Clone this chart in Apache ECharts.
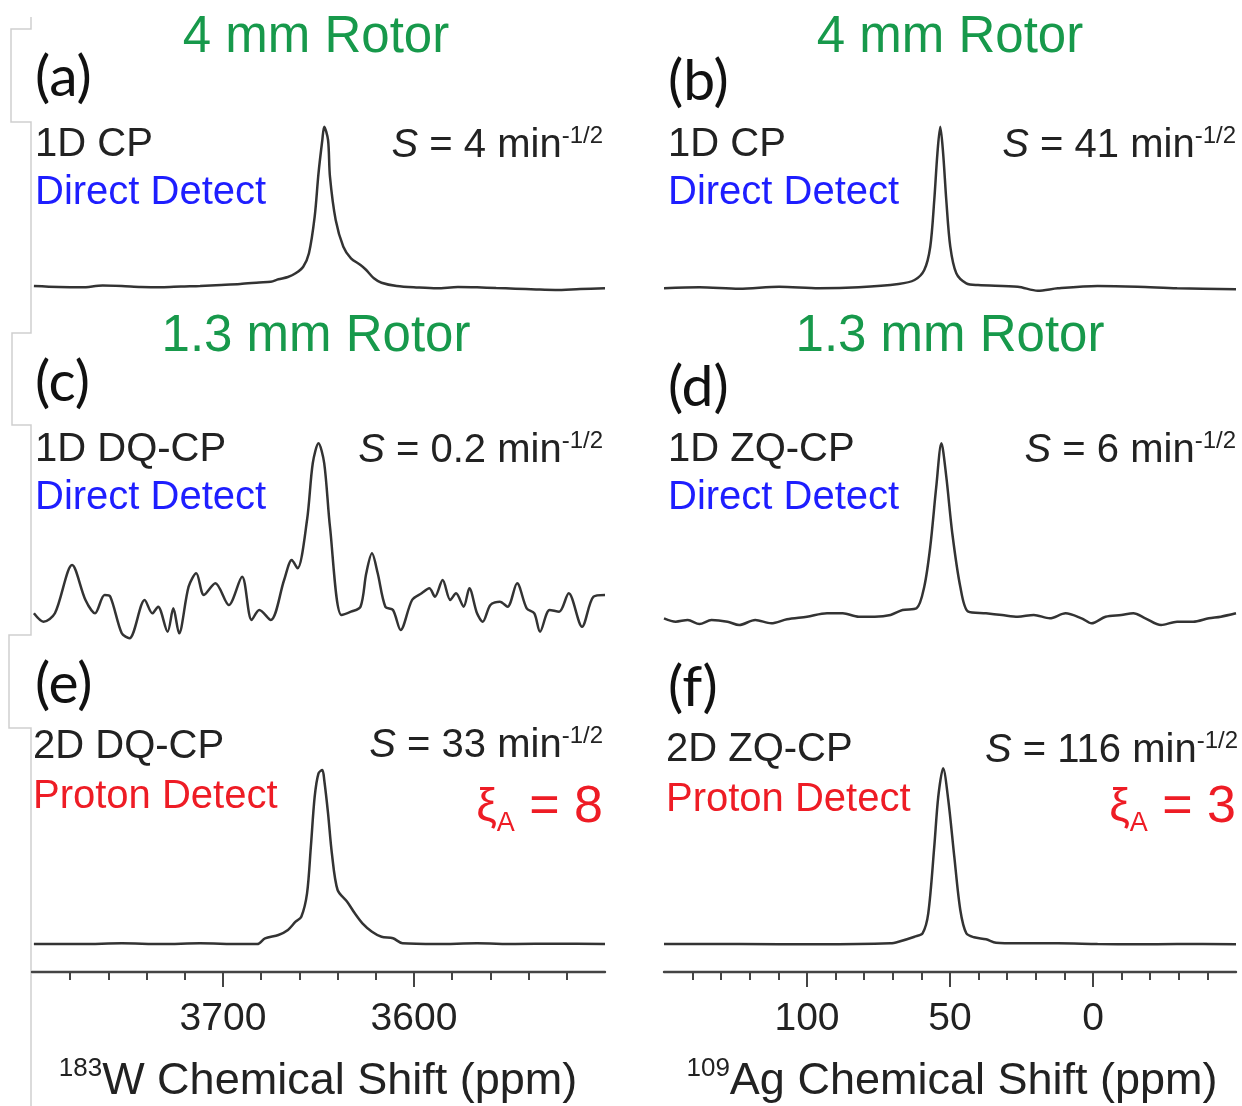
<!DOCTYPE html>
<html>
<head>
<meta charset="utf-8">
<script src="https://cdn.jsdelivr.net/npm/echarts@6/dist/echarts.min.js"></script>
<style>
html,body{margin:0;padding:0;background:#fff;}
#c{width:1242px;height:1106px;}
</style>
</head>
<body>
<div id="c"></div>
<script>
// ---------- DATA ----------
// 183W shift (ppm) and intensity (arb. units) for the left column
const shiftA = [3799,3786,3774,3763,3753,3743,3732,3722,3712,3701,3691,3681,3675,3671,3666,3662,3658,3655,3652,3650,3648,3647,3645,3644,3641,3637,3633,3628,3625,3621,3617,3609,3598,3588,3577,3567,3557,3547,3536,3526,3513,3500];
const intA   = [1,0,-0.3,1.5,1,0,-0.3,0.5,1,2,3,4.5,5.3,7.7,10,13.7,20.3,33.7,70.3,113.7,147,160.3,147,110.3,67,40.3,28.7,22,17,8.7,4.3,1,-0.5,-1.3,0,-0.3,-1,-1.7,-2.5,-3,-2,-1.3];

const shiftC = [3799,3794,3788,3779,3772,3767,3762,3759,3753,3749,3741,3737,3734,3729,3726,3723,3718,3714,3710,3704,3697,3690,3685,3681,3675,3668,3664,3661,3656,3653,3650,3647,3644,3638,3633,3628,3625,3622,3619,3615,3611,3607,3601,3596,3592,3589,3585,3581,3578,3574,3571,3567,3564,3560,3555,3551,3546,3541,3537,3534,3529,3524,3519,3512,3506,3500];
const intC   = [6.7,-1.7,6.7,55,20,6.7,25,23.3,-13.3,-18.3,20,6.7,13.3,-11.7,11.7,-13.3,33.3,46.7,25,36.7,15,43.3,0,10,0,40,60,51.7,100,156.7,176.7,156.7,93.3,5,8.3,13.3,46.7,66.7,46.7,13.3,10,-10,20,26.7,31.7,23.3,40,20,26.7,13.3,31.7,6.7,-1.7,15,18.3,13.3,36.7,11.7,6.7,-11.7,10,8.3,26.7,-6.7,23.3,25];

const shiftE = [3799,3774,3753,3732,3712,3691,3682,3678,3671,3666,3662,3659,3656,3654,3652,3650,3648,3647,3645,3643,3640,3635,3631,3627,3622,3617,3611,3606,3588,3567,3547,3526,3500];
const intE   = [0,0,0.7,0,0.7,0,0,5.7,9,14,22.3,27.3,50.7,97.3,147.3,170.7,174,164,130.7,90.7,54,42.3,30.7,20.7,12.3,7.3,5.7,0.7,0,0.7,0,0.3,0];

// 109Ag shift (ppm) and intensity (arb. units) for the right column
const shiftB = [150,137.6,123.7,109.7,95.8,81.9,68,62.4,59,56.9,55.5,54.4,53.4,52.4,51.3,49.9,47.8,44.3,40.2,26.3,19.3,12.3,-1.6,-15.5,-29.4,-50];
const intB   = [-0.3,0.7,-0.7,1.3,-0.3,0.7,4,8,18,41.3,88,134.7,161.3,134.7,88,41.3,14.7,4.7,3,1.3,-2.7,-0.3,2,1.3,-0.3,-1.3];

const shiftD = [150,145.9,141.7,137.6,133.4,127.8,123.7,118.1,112.5,107,100,93,87.5,81.9,76.3,70.8,66.6,61.7,59,56.9,54.8,53,51.3,49.2,46.4,43.6,37.4,31.8,26.3,20.7,15.1,9.6,4,0.5,-4.4,-9.9,-14.1,-18.3,-23.8,-29.4,-35,-40.5,-44.7,-50];
const intD   = [-3.3,-6.7,-5,-9,-5,-6.7,-10,-5,-8.3,-4.3,-1.7,1.7,1.7,-1.7,-1.7,0,5,6.7,28.3,68.3,128.3,171.7,138.3,81.7,28.3,3.3,1.7,0,-1.7,0,-3.3,1.7,-3.3,-8.3,-1.7,0,1.7,-3.3,-10,-6.7,-6.7,-3.3,-1.7,1.7];

const shiftF = [150,123.7,95.8,70.8,68,62.4,59.6,57.6,55.5,54.1,52.4,50.6,48.5,46.4,44.3,41.6,37.4,33.9,26.3,12.3,-1.6,-15.5,-29.4,-50];
const intF   = [0,0,-0.3,0.7,2.3,7.3,10.7,30.7,97.3,147.3,175.7,144,87.3,34,10.7,6.7,4.7,1.3,0.7,0.7,0,-0.3,0,-0.3];

// axis ticks
const wMajor  = [3700,3600];
const wMinor  = [3780,3760,3740,3720,3680,3660,3640,3620,3580,3560,3540,3520];
const agMajor = [100,50,0];
const agMinor = [140,130,120,110,90,80,70,60,40,30,20,10,-10,-20,-30,-40];
const wRange  = [3500,3800];
const agRange = [-50,150];

// panel texts
const panelLetters = ['(a)','(b)','(c)','(d)','(e)','(f)'];
const methods = ['1D CP','1D CP','1D DQ-CP','1D ZQ-CP','2D DQ-CP','2D ZQ-CP'];
const detects = ['Direct Detect','Direct Detect','Direct Detect','Direct Detect','Proton Detect','Proton Detect'];
const sValues = ['4','41','0.2','6','33','116'];
const xiValues = ['8','3'];
const rotorTitles = ['4 mm Rotor','1.3 mm Rotor'];

// ---------- LAYOUT ----------
const FONT = '"Liberation Sans", Arial, sans-serif';
const GREEN = '#17994b', BLUE = '#1e1eff', RED = '#ee1c25', INK = '#222';
const colX = [{left:32,width:573},{left:664,width:572}];
const rows = [{top:100,height:200,yMin:-13,yMax:187},{top:420,height:225,yMin:-25,yMax:200},{top:740,height:220,yMin:-16,yMax:204}];
const rowsR = [{yMin:-12,yMax:188},{yMin:-30,yMax:195},{yMin:-16,yMax:204}];
const series = [[shiftA,intA],[shiftB,intB],[shiftC,intC],[shiftD,intD],[shiftE,intE],[shiftF,intF]];

const grid=[], xAxis=[], yAxis=[], ser=[];
for (let i=0;i<6;i++){
  const r = Math.floor(i/2), c = i%2;
  grid.push({left:colX[c].left, width:colX[c].width, top:rows[r].top, height:rows[r].height});
  const rng = c===0 ? wRange : agRange;
  xAxis.push({type:'value', gridIndex:i, min:rng[0], max:rng[1], inverse:true, show:false});
  const yr = c===0 ? rows[r] : rowsR[r];
  yAxis.push({type:'value', gridIndex:i, min:yr.yMin, max:yr.yMax, show:false});
  const [xs,ys] = series[i];
  ser.push({type:'line', xAxisIndex:i, yAxisIndex:i, data: xs.map((x,k)=>[x,ys[k]]),
    showSymbol:false, smooth:0.3, lineStyle:{color:'#333', width:2.5}, silent:true, animation:false});
}
// bottom axes (minor + major ticks)
[[4,wRange,wMinor,wMajor],[5,agRange,agMinor,agMajor]].forEach(([gi,rng,minor,major])=>{
  xAxis.push({type:'value', gridIndex:gi, min:rng[0], max:rng[1], inverse:true, position:'bottom', offset:12,
    axisLine:{show:true, lineStyle:{color:'#444', width:2.4}},
    axisTick:{show:true, customValues:minor, length:8, lineStyle:{color:'#444', width:2}},
    axisLabel:{show:false}, splitLine:{show:false}});
  xAxis.push({type:'value', gridIndex:gi, min:rng[0], max:rng[1], inverse:true, position:'bottom', offset:12,
    axisLine:{show:false},
    axisTick:{show:true, customValues:major, length:15, lineStyle:{color:'#444', width:2}},
    axisLabel:{show:true, customValues:major, margin:28, fontSize:39, fontFamily:FONT, color:INK, formatter:v=>String(v)},
    splitLine:{show:false}});
});

// ---------- TEXT ----------
const g = [];
function txt(text,x,y,opt){
  g.push({type:'text', silent:true, style:Object.assign({text:text, x:x, y:y, fontFamily:FONT, fontSize:40, fill:INK,
    textAlign:'left', textVerticalAlign:'middle'}, opt||{})});
}
const titleCx=[316,950], titleY=[38,337];
for (let r=0;r<2;r++) for (let c=0;c<2;c++) txt(rotorTitles[r], titleCx[c], titleY[r], {fontSize:51, fill:GREEN, textAlign:'center'});
const letterPos=[[35,78],[668,82],[35,383],[668,388],[35,685],[668,688]];
const methodPos=[[35,145],[668,145],[35,450],[668,450],[33,747],[666,750]];
const detectPos=[[35,193],[668,193],[35,498],[668,498],[33,797],[666,800]];
const sPos=[[603,145],[1236,145],[603,450],[1236,450],[603,745],[1238,750]];
for (let i=0;i<6;i++){
  txt(panelLetters[i], letterPos[i][0], letterPos[i][1], {fontFamily:'Lato, "Open Sans", sans-serif', fontSize:57, fill:'#111'});
  txt(methods[i], methodPos[i][0], methodPos[i][1], {fill:INK});
  txt(detects[i], detectPos[i][0], detectPos[i][1], {fill: i<4?BLUE:RED});
  g.push({type:'text', silent:true, style:{
    text:'{i|S}{n| = '+sValues[i]+' min}{sup|-1/2}', x:sPos[i][0], y:sPos[i][1], textAlign:'right', textVerticalAlign:'middle',
    rich:{
      i:{fontFamily:FONT, fontSize:40, fontStyle:'italic', fill:INK, lineHeight:42, verticalAlign:'bottom'},
      n:{fontFamily:FONT, fontSize:40, fill:INK, lineHeight:42, verticalAlign:'bottom'},
      sup:{fontFamily:FONT, fontSize:24, fill:INK, lineHeight:24, verticalAlign:'top'}
    }}});
}
[[603,808],[1236,808]].forEach((p,k)=>{
  g.push({type:'text', silent:true, style:{
    text:'{xi|ξ}{sub|A}{n| = '+xiValues[k]+'}', x:p[0], y:p[1], textAlign:'right', textVerticalAlign:'middle',
    rich:{
      xi:{fontFamily:FONT, fontSize:46, fill:RED, lineHeight:58, verticalAlign:'middle'},
      sub:{fontFamily:FONT, fontSize:27, fill:RED, lineHeight:27, verticalAlign:'bottom'},
      n:{fontFamily:FONT, fontSize:52, fill:RED, lineHeight:58, verticalAlign:'middle'}
    }}});
});
// axis titles
[['183','W Chemical Shift (ppm)',318],['109','Ag Chemical Shift (ppm)',952]].forEach(a=>{
  g.push({type:'text', silent:true, style:{
    text:'{sup|'+a[0]+'}{n|'+a[1]+'}', x:a[2], y:1080, textAlign:'center', textVerticalAlign:'middle',
    rich:{
      sup:{fontFamily:FONT, fontSize:26, fill:INK, lineHeight:26, verticalAlign:'top'},
      n:{fontFamily:FONT, fontSize:45, fill:INK, lineHeight:48, verticalAlign:'bottom'}
    }}});
});
// faint frame lines seen along the left edge of the picture
g.push({type:'polyline', silent:true, shape:{points:[[31,17],[31,29],[11,29],[11,122],[31,122],[31,333],[12,333],[12,425],[31,425],[31,635],[9,635],[9,728],[31,728],[31,1106]]},
  style:{stroke:'#cfcfcf', lineWidth:1.5, fill:null}});

const chart = echarts.init(document.getElementById('c'), null, {renderer:'canvas'});
chart.setOption({animation:false, backgroundColor:'#fff', grid, xAxis, yAxis, series:ser, graphic:{elements:g}});
</script>
</body>
</html>
